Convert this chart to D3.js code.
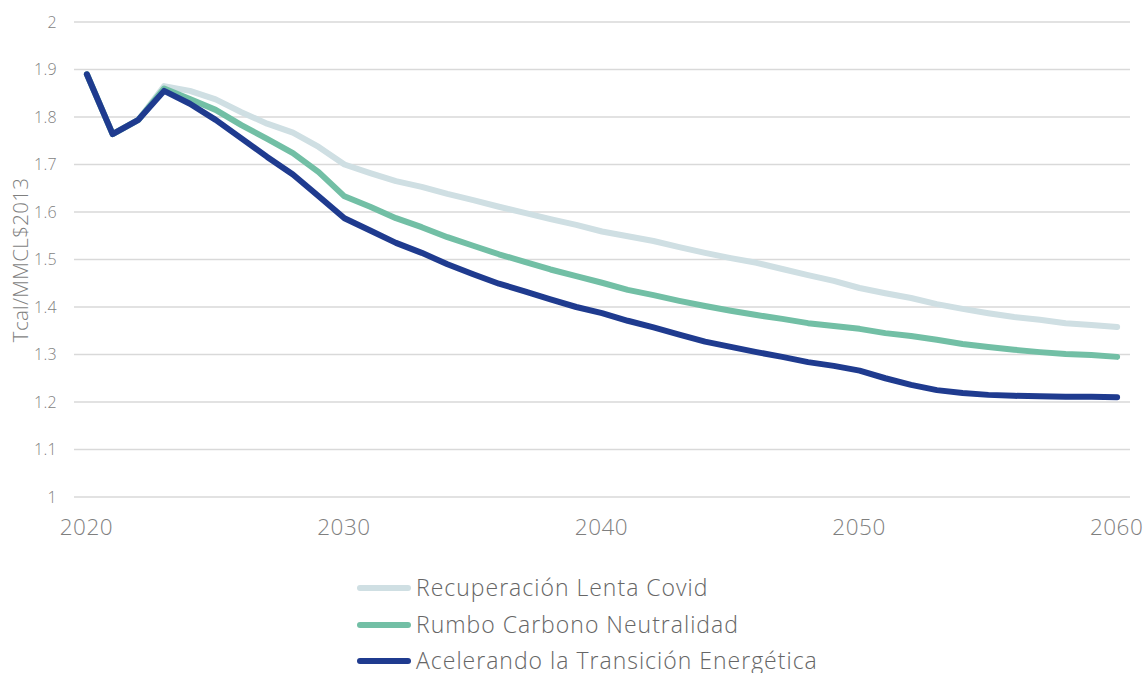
<!DOCTYPE html>
<html>
<head>
<meta charset="utf-8">
<script src="https://cdn.jsdelivr.net/npm/d3@7"></script>
<style>
  html, body { margin: 0; padding: 0; background: #fff; }
  svg text { font-family: "Open Sans", "Noto Sans", sans-serif; font-weight: 300; }
</style>
</head>
<body>
<svg id="chart" width="1148" height="673"></svg>
<script>
const years = d3.range(2020, 2061);
const xTickYears = [2020, 2030, 2040, 2050, 2060];
const yTicks = [1, 1.1, 1.2, 1.3, 1.4, 1.5, 1.6, 1.7, 1.8, 1.9, 2];

const seriesNames = ["Recuperación Lenta Covid", "Rumbo Carbono Neutralidad", "Acelerando la Transición Energética"];
const seriesColors = ["#cfdfe3", "#72bfa5", "#1f3b8f"];

const recuperacion = [1.89, 1.764, 1.794, 1.865, 1.855, 1.837, 1.81, 1.786, 1.767, 1.737, 1.70,
  1.682, 1.665, 1.653, 1.638, 1.625, 1.611, 1.598, 1.585, 1.573, 1.559,
  1.549, 1.539, 1.526, 1.514, 1.503, 1.493, 1.48, 1.467, 1.455, 1.44,
  1.429, 1.419, 1.406, 1.396, 1.387, 1.379, 1.373, 1.366, 1.362, 1.358];
const rumbo = [1.89, 1.764, 1.794, 1.86, 1.838, 1.815, 1.783, 1.754, 1.724, 1.684, 1.633,
  1.611, 1.587, 1.568, 1.547, 1.529, 1.511, 1.495, 1.479, 1.465, 1.451,
  1.436, 1.425, 1.413, 1.402, 1.392, 1.383, 1.375, 1.366, 1.36, 1.354,
  1.345, 1.339, 1.331, 1.322, 1.316, 1.31, 1.305, 1.301, 1.299, 1.295];
const acelerando = [1.89, 1.764, 1.794, 1.855, 1.828, 1.794, 1.755, 1.716, 1.679, 1.633, 1.587,
  1.561, 1.535, 1.514, 1.49, 1.469, 1.449, 1.433, 1.416, 1.4, 1.387,
  1.371, 1.357, 1.342, 1.327, 1.316, 1.305, 1.295, 1.284, 1.276, 1.266,
  1.25, 1.236, 1.225, 1.219, 1.215, 1.213, 1.212, 1.211, 1.211, 1.21];
const seriesValues = [recuperacion, rumbo, acelerando];

const svg = d3.select("#chart");
const plot = { left: 74, right: 1130, top: 22, bottom: 497 };
const fontFam = '"Open Sans", "Noto Sans", sans-serif';

const x = d3.scalePoint().domain(years).range([plot.left, plot.right]).padding(0.5);
const y = d3.scaleLinear().domain([1, 2]).range([plot.bottom, plot.top]);

// gridlines
svg.append("g").selectAll("line").data(yTicks).join("line")
  .attr("x1", plot.left).attr("x2", plot.right)
  .attr("y1", d => y(d)).attr("y2", d => y(d))
  .attr("stroke", "#d9d9d9").attr("stroke-width", 1.5);

// y axis labels
const yAxis = d3.axisLeft(y).tickValues(yTicks).tickSize(0).tickPadding(0).tickFormat(d => String(d));
const gy = svg.append("g").attr("transform", `translate(57,0)`).call(yAxis);
gy.select(".domain").remove();
gy.selectAll("text").attr("font-size", 16).attr("fill", "#7f7f7f")
  .style("font-family", fontFam).style("font-weight", 300).style("letter-spacing", "0.3px");

// x axis labels
const xAxis = d3.axisBottom(x).tickValues(xTickYears).tickSize(0).tickPadding(0);
const gx = svg.append("g").attr("transform", `translate(-1,535)`).call(xAxis);
gx.select(".domain").remove();
gx.selectAll("text").attr("font-size", 22.5).attr("fill", "#7f7f7f").attr("y", 0).attr("dy", 0)
  .style("font-family", fontFam).style("font-weight", 300).style("letter-spacing", "0.5px");

// y axis title
svg.append("text")
  .attr("transform", `translate(28,260) rotate(-90)`)
  .attr("text-anchor", "middle")
  .attr("font-size", 20.5).attr("fill", "#7f7f7f")
  .style("letter-spacing", "0.3px")
  .text("Tcal/MMCL$2013");

// lines
const line = d3.line().x((d, i) => x(years[i])).y(d => y(d));
svg.append("g").selectAll("path").data(seriesValues).join("path")
  .attr("d", d => line(d))
  .attr("fill", "none")
  .attr("stroke", (d, i) => seriesColors[i])
  .attr("stroke-width", 6)
  .attr("stroke-linecap", "round")
  .attr("stroke-linejoin", "round");

// legend
const legendY = [588, 625, 661];
const lg = svg.append("g").selectAll("g").data(seriesNames).join("g")
  .attr("transform", (d, i) => `translate(0,${legendY[i]})`);
lg.append("line").attr("x1", 360).attr("x2", 408).attr("y1", 0).attr("y2", 0)
  .attr("stroke", (d, i) => seriesColors[i]).attr("stroke-width", 6).attr("stroke-linecap", "round");
lg.append("text").attr("x", 416).attr("y", 0).attr("dy", "0.35em")
  .attr("font-size", 23).attr("fill", "#666666")
  .style("letter-spacing", "1px")
  .text(d => d);
</script>
</body>
</html>
